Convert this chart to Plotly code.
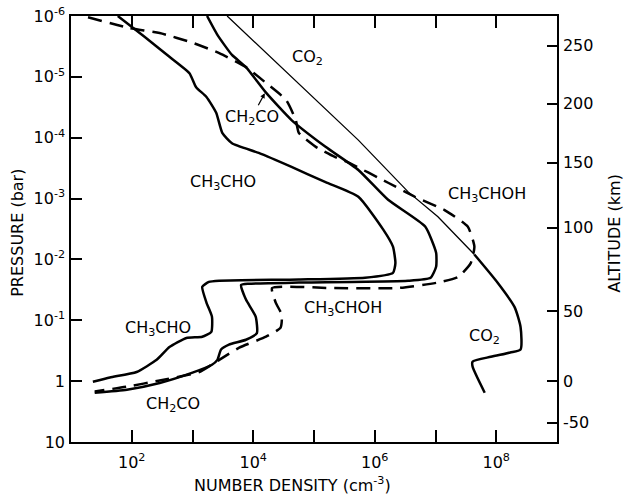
import numpy as np
import plotly.graph_objects as go

# ---------------- data (log10 values) ----------------
co2_log_n = [3.57, 4.75, 5.73, 6.55, 7.04, 7.64, 8.02, 8.30, 8.40, 8.40, 8.23, 7.91, 7.61, 7.61, 7.81]
co2_log_p = [-6.00, -4.88, -3.96, -3.11, -2.70, -2.08, -1.62, -1.22, -0.89, -0.52, -0.47, -0.40, -0.32, -0.24, 0.19]
co2_thin_end = 6  # upper (thin) part of the CO2 profile

ch2co_log_n = [3.24, 3.41, 3.65, 3.88, 4.21, 4.63, 5.19, 5.73, 6.22, 6.83, 7.01, 7.01, 6.92, 6.55, 4.75,
               3.93, 3.80, 3.88, 4.04, 4.06, 3.88, 3.60, 3.47, 3.41, 3.32, 3.00, 2.46, 1.92, 1.39]
ch2co_log_p = [-6.00, -5.69, -5.36, -5.16, -4.74, -4.29, -3.85, -3.47, -2.98, -2.54, -2.11, -1.88, -1.70, -1.65, -1.62,
               -1.60, -1.58, -1.34, -1.06, -0.79, -0.68, -0.60, -0.52, -0.35, -0.27, -0.14, 0.03, 0.14, 0.19]

ch3cho_log_n = [1.77, 2.21, 2.62, 2.95, 3.06, 3.23, 3.39, 3.49, 3.65, 4.09, 4.63, 5.19, 5.73, 6.14, 6.30, 6.34, 6.30,
                5.84, 4.75, 3.44, 3.27, 3.16, 3.23, 3.32, 3.31, 3.16, 2.90, 2.62, 2.41, 2.08, 1.64, 1.36]
ch3cho_log_p = [-6.00, -5.66, -5.33, -5.06, -4.83, -4.67, -4.41, -4.08, -3.91, -3.75, -3.52, -3.27, -3.03, -2.49, -2.21, -1.94, -1.78,
                -1.70, -1.67, -1.65, -1.63, -1.55, -1.29, -1.06, -0.81, -0.73, -0.71, -0.56, -0.35, -0.15, -0.06, 0.01]

ch3choh_log_n = [1.28, 1.97, 2.46, 3.00, 3.44, 3.88, 4.21, 4.54, 4.70, 4.75, 5.03, 5.35, 5.57, 6.22, 6.66, 7.15, 7.53, 7.64,
                 7.58, 7.37, 7.04, 6.38, 5.29, 4.31, 4.37, 4.47, 4.45, 4.21, 3.77, 3.44, 3.11, 2.46, 1.92, 1.39]
ch3choh_log_p = [-5.98, -5.80, -5.72, -5.56, -5.39, -5.16, -4.90, -4.62, -4.29, -4.08, -3.85, -3.68, -3.59, -3.26, -3.03, -2.81, -2.54, -2.21,
                 -1.94, -1.71, -1.62, -1.53, -1.53, -1.53, -1.29, -1.09, -0.88, -0.73, -0.55, -0.35, -0.15, -0.01, 0.09, 0.17]

pressure_exps = [-6, -5, -4, -3, -2, -1, 0, 1]
pressure_labels = ["10<sup>-6</sup>", "10<sup>-5</sup>", "10<sup>-4</sup>", "10<sup>-3</sup>",
                   "10<sup>-2</sup>", "10<sup>-1</sup>", "1", "10"]
density_exps = [2, 3, 4, 5, 6, 7, 8]
density_labels = ["10<sup>2</sup>", "", "10<sup>4</sup>", "", "10<sup>6</sup>", "", "10<sup>8</sup>"]
altitude_km = [250, 200, 150, 100, 50, 0, -50]
altitude_log_p = [-5.51, -4.56, -3.59, -2.52, -1.15, 0.0, 0.68]

labels = [
    ("CO<sub>2</sub>", 4.90, -5.31),
    ("CH<sub>3</sub>CHO", 3.50, -3.26),
    ("CH<sub>3</sub>CHOH", 7.85, -3.06),
    ("CH<sub>3</sub>CHOH", 5.48, -1.20),
    ("CH<sub>3</sub>CHO", 2.43, -0.87),
    ("CH<sub>2</sub>CO", 2.68, 0.39),
    ("CO<sub>2</sub>", 7.81, -0.73),
]

p10 = lambda a: np.power(10.0, np.array(a, dtype=float))

FONT = "DejaVu Sans"
FS = 16
fig = go.Figure()

fig.add_trace(go.Scatter(x=p10(co2_log_n[:co2_thin_end]), y=p10(co2_log_p[:co2_thin_end]),
                         mode="lines", line=dict(color="black", width=1.3), showlegend=False))
fig.add_trace(go.Scatter(x=p10(co2_log_n[co2_thin_end - 1:]), y=p10(co2_log_p[co2_thin_end - 1:]),
                         mode="lines", line=dict(color="black", width=2.5, shape="spline", smoothing=0.6),
                         showlegend=False))
fig.add_trace(go.Scatter(x=p10(ch2co_log_n), y=p10(ch2co_log_p), mode="lines",
                         line=dict(color="black", width=2.5, shape="spline", smoothing=0.5), showlegend=False))
fig.add_trace(go.Scatter(x=p10(ch3cho_log_n), y=p10(ch3cho_log_p), mode="lines",
                         line=dict(color="black", width=2.5, shape="spline", smoothing=0.5), showlegend=False))
fig.add_trace(go.Scatter(x=p10(ch3choh_log_n), y=p10(ch3choh_log_p), mode="lines",
                         line=dict(color="black", width=2.5, dash="14px,8px", shape="spline", smoothing=0.5),
                         showlegend=False))
# invisible trace for the altitude axis
fig.add_trace(go.Scatter(x=[1e5], y=[1e-3], yaxis="y2", mode="markers",
                         marker=dict(opacity=0), showlegend=False, hoverinfo="skip"))

for txt, lx, ly in labels:
    fig.add_annotation(x=lx, y=ly, text=txt, showarrow=False,
                       font=dict(family=FONT, size=FS, color="black"))
fig.add_annotation(x=4.19, y=-4.73, text="CH<sub>2</sub>CO", showarrow=True,
                   ax=-13, ay=24, xref="x", yref="y", arrowhead=2, arrowsize=0.8,
                   arrowwidth=1.2, arrowcolor="black",
                   font=dict(family=FONT, size=FS, color="black"))

axis_common = dict(showgrid=False, zeroline=False, showline=True, linecolor="black", linewidth=1.5,
                   ticks="inside", tickcolor="black", tickwidth=1.5, automargin=False,
                   tickfont=dict(family=FONT, size=FS, color="black"))

fig.update_layout(
    width=624, height=497,
    margin=dict(l=71, r=67, t=16, b=55),
    paper_bgcolor="white", plot_bgcolor="white",
    xaxis=dict(type="log", range=[1, 9], tickmode="array", tickvals=p10(density_exps),
               ticktext=density_labels, ticklen=12, mirror="ticks", ticklabelstandoff=5, **axis_common),
    yaxis=dict(type="log", range=[1, -6], tickmode="array", tickvals=p10(pressure_exps),
               ticktext=pressure_labels, ticklen=11, ticklabelstandoff=1, **axis_common),
    yaxis2=dict(type="log", range=[1, -6], overlaying="y", side="right", tickmode="array",
                tickvals=p10(altitude_log_p), ticktext=[str(a) for a in altitude_km], ticklen=10,
                ticklabelstandoff=1, **axis_common),
)

fig.add_annotation(xref="paper", yref="paper", x=-0.11, y=0.49, xanchor="center", yanchor="middle",
                   text="PRESSURE (bar)", textangle=-90,
                   showarrow=False, font=dict(family=FONT, size=FS, color="black"))
fig.add_annotation(xref="paper", yref="paper", x=0.455, y=-0.1, xanchor="center", yanchor="middle",
                   text="NUMBER DENSITY (cm<sup>-3</sup>)",
                   showarrow=False, font=dict(family=FONT, size=FS, color="black"))
fig.add_annotation(xref="paper", yref="paper", x=1.118, y=0.49, xanchor="center", yanchor="middle",
                   text="ALTITUDE (km)", textangle=-90,
                   showarrow=False, font=dict(family=FONT, size=FS, color="black"))

fig.write_html("out.html")
